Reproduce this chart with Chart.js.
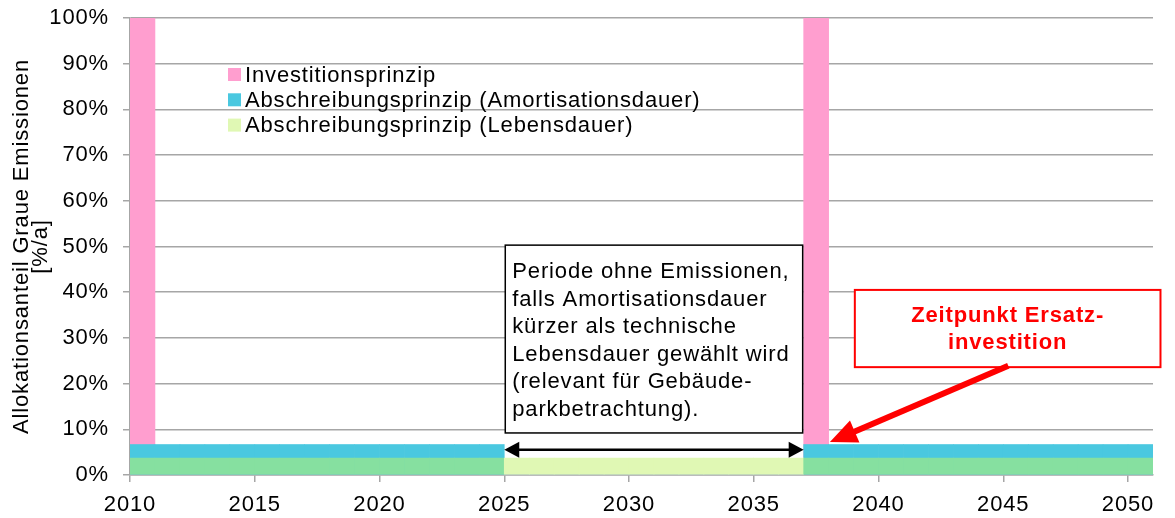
<!DOCTYPE html>
<html>
<head>
<meta charset="utf-8">
<script src="https://cdn.jsdelivr.net/npm/chart.js@4/dist/chart.umd.min.js"></script>
<style>
  html, body { margin: 0; padding: 0; background: #ffffff; }
  #wrap { width: 1175px; height: 518px; position: relative; }
</style>
</head>
<body>
<div id="wrap"><canvas id="c"></canvas></div>
<script>
// ---- Data ----
const years = ['2010','2011','2012','2013','2014','2015','2016','2017','2018','2019',
               '2020','2021','2022','2023','2024','2025','2026','2027','2028','2029',
               '2030','2031','2032','2033','2034','2035','2036','2037','2038','2039',
               '2040','2041','2042','2043','2044','2045','2046','2047','2048','2049','2050'];

const tickYears = ['2010','2015','2020','2025','2030','2035','2040','2045','2050'];

const yTicks = [0, 10, 20, 30, 40, 50, 60, 70, 80, 90, 100];

// Investitionsprinzip [%/a]
const investition = [100, 0, 0, 0, 0, 0, 0, 0, 0, 0,
                     0, 0, 0, 0, 0, 0, 0, 0, 0, 0,
                     0, 0, 0, 0, 0, 0, 0, 100, 0, 0,
                     0, 0, 0, 0, 0, 0, 0, 0, 0, 0, 0];

// Abschreibungsprinzip (Amortisationsdauer) [%/a]
const amortisation = [6.67, 6.67, 6.67, 6.67, 6.67, 6.67, 6.67, 6.67, 6.67, 6.67,
                      6.67, 6.67, 6.67, 6.67, 6.67, 0, 0, 0, 0, 0,
                      0, 0, 0, 0, 0, 0, 0, 6.67, 6.67, 6.67,
                      6.67, 6.67, 6.67, 6.67, 6.67, 6.67, 6.67, 6.67, 6.67, 6.67, 6.67];

// Abschreibungsprinzip (Lebensdauer) [%/a]
const lebensdauer = [3.7, 3.7, 3.7, 3.7, 3.7, 3.7, 3.7, 3.7, 3.7, 3.7,
                     3.7, 3.7, 3.7, 3.7, 3.7, 3.7, 3.7, 3.7, 3.7, 3.7,
                     3.7, 3.7, 3.7, 3.7, 3.7, 3.7, 3.7, 3.7, 3.7, 3.7,
                     3.7, 3.7, 3.7, 3.7, 3.7, 3.7, 3.7, 3.7, 3.7, 3.7, 3.7];

const seriesLabels = ['Investitionsprinzip',
                      'Abschreibungsprinzip (Amortisationsdauer)',
                      'Abschreibungsprinzip (Lebensdauer)'];

// ---- Styles ----
const FONT = '"Liberation Sans", Arial, sans-serif';
const LETTER_SPACING = '0.85px';
const PINK = '#ff9ecf';
const CYAN = '#4ac8e0';
const GREEN_OVER = '#86e0a0';
const LIGHT_GREEN = '#e0f8b4';
const GRID = '#a6a6a6';

// Annotation geometry in data space (years / percent)
const noteBox = { x0: 2025, x1: 2037, yTop: 50.3, yBot: 9.2 };
const noteLines = ['Periode ohne Emissionen,', 'falls Amortisationsdauer',
                   'kürzer als technische', 'Lebensdauer gewählt wird',
                   '(relevant für Gebäude-', 'parkbetrachtung).'];
const spanArrow = { x0: 2025, x1: 2037, y: 5.5 };
const redBox = { x0: 2039.05, x1: 2051.3, yTop: 40.5, yBot: 23.6 };
const redLines = ['Zeitpunkt Ersatz-', 'investition'];
const redArrow = { xFrom: 2045.2, yFrom: 23.9, xTo: 2038.05, yTo: 7.2 };

function arrowHead(ctx, tipX, tipY, fromX, fromY, len, halfW) {
  const ang = Math.atan2(tipY - fromY, tipX - fromX);
  ctx.beginPath();
  ctx.moveTo(tipX, tipY);
  ctx.lineTo(tipX - len * Math.cos(ang) + halfW * Math.sin(ang),
             tipY - len * Math.sin(ang) - halfW * Math.cos(ang));
  ctx.lineTo(tipX - len * Math.cos(ang) - halfW * Math.sin(ang),
             tipY - len * Math.sin(ang) + halfW * Math.cos(ang));
  ctx.closePath();
  ctx.fill();
}

const spacingPlugin = {
  id: 'spacing',
  beforeInit(chart) { chart.ctx.letterSpacing = LETTER_SPACING; },
  beforeUpdate(chart) { chart.ctx.letterSpacing = LETTER_SPACING; },
  beforeLayout(chart) { chart.ctx.letterSpacing = LETTER_SPACING; },
  beforeDraw(chart) { chart.ctx.letterSpacing = LETTER_SPACING; },
  resize(chart) { chart.ctx.letterSpacing = LETTER_SPACING; }
};

const overlayPlugin = {
  id: 'overlay',
  afterDraw(chart) {
    const { ctx, chartArea, scales } = chart;
    const xs = scales.x, ys = scales.y;
    const w = xs.getPixelForValue(1) - xs.getPixelForValue(0);
    const xAt = yr => xs.getPixelForValue(0) + (yr - 2010 - 0.5) * w;
    const yAt = v => ys.getPixelForValue(v);
    ctx.save();
    ctx.letterSpacing = LETTER_SPACING;

    // Legend (inside plot)
    const legendColors = [PINK, CYAN, LIGHT_GREEN];
    ctx.font = '22px ' + FONT;
    ctx.textBaseline = 'middle';
    ctx.textAlign = 'left';
    const lx = chartArea.left + 98, ly = chartArea.top + 56.5;
    seriesLabels.forEach((lab, i) => {
      const cy = ly + i * 25.3;
      ctx.fillStyle = legendColors[i];
      ctx.fillRect(lx, cy - 6.5, 13, 13);
      ctx.fillStyle = '#000';
      ctx.fillText(lab, lx + 17, cy + 1);
    });

    // Note box
    const bx0 = xAt(noteBox.x0) + 1, bx1 = xAt(noteBox.x1) - 1;
    const by0 = yAt(noteBox.yTop), by1 = yAt(noteBox.yBot);
    ctx.fillStyle = '#fff';
    ctx.fillRect(bx0, by0, bx1 - bx0, by1 - by0);
    ctx.strokeStyle = '#000';
    ctx.lineWidth = 1.5;
    ctx.strokeRect(bx0, by0, bx1 - bx0, by1 - by0);
    ctx.fillStyle = '#000';
    ctx.font = '22px ' + FONT;
    ctx.textBaseline = 'alphabetic';
    noteLines.forEach((t, i) => ctx.fillText(t, bx0 + 7, by0 + 33 + i * 27.5));

    // Double arrow
    const ax0 = xAt(spanArrow.x0), ax1 = xAt(spanArrow.x1), ay = yAt(spanArrow.y);
    ctx.strokeStyle = '#000';
    ctx.lineWidth = 2.5;
    ctx.beginPath();
    ctx.moveTo(ax0 + 10, ay);
    ctx.lineTo(ax1 - 10, ay);
    ctx.stroke();
    ctx.fillStyle = '#000';
    arrowHead(ctx, ax0, ay, ax1, ay, 15, 8);
    arrowHead(ctx, ax1, ay, ax0, ay, 15, 8);

    // Red box
    const rx0 = xAt(redBox.x0), rx1 = xAt(redBox.x1);
    const ry0 = yAt(redBox.yTop), ry1 = yAt(redBox.yBot);
    ctx.fillStyle = '#fff';
    ctx.fillRect(rx0, ry0, rx1 - rx0, ry1 - ry0);
    ctx.strokeStyle = '#ff0000';
    ctx.lineWidth = 2;
    ctx.strokeRect(rx0, ry0, rx1 - rx0, ry1 - ry0);
    ctx.fillStyle = '#ff0000';
    ctx.font = 'bold 22px ' + FONT;
    ctx.textAlign = 'center';
    ctx.textBaseline = 'middle';
    const rcx = (rx0 + rx1) / 2;
    ctx.fillText(redLines[0], rcx, ry0 + 26);
    ctx.fillText(redLines[1], rcx, ry0 + 53);

    // Red arrow
    const fx = xAt(redArrow.xFrom), fy = yAt(redArrow.yFrom);
    const tx = xAt(redArrow.xTo), ty = yAt(redArrow.yTo);
    const ang = Math.atan2(ty - fy, tx - fx);
    ctx.strokeStyle = '#ff0000';
    ctx.lineWidth = 6;
    ctx.beginPath();
    ctx.moveTo(fx, fy);
    ctx.lineTo(tx - 22 * Math.cos(ang), ty - 22 * Math.sin(ang));
    ctx.stroke();
    arrowHead(ctx, tx, ty, fx, fy, 27, 12);

    ctx.restore();
  }
};

const ctxEl = document.getElementById('c');
new Chart(ctxEl, {
  type: 'bar',
  data: {
    labels: years,
    datasets: [
      { label: seriesLabels[0], data: investition, backgroundColor: PINK, order: 3 },
      { label: seriesLabels[1], data: amortisation, backgroundColor: CYAN, order: 2 },
      { label: seriesLabels[2], data: lebensdauer, order: 1,
        backgroundColor: c => (amortisation[c.dataIndex] > 0 ? GREEN_OVER : LIGHT_GREEN) }
    ]
  },
  options: {
    responsive: true,
    maintainAspectRatio: false,
    animation: false,
    layout: { padding: { top: 18, right: 22, left: 0, bottom: 0 } },
    datasets: { bar: { grouped: false, barPercentage: 1, categoryPercentage: 1, borderWidth: 0 } },
    plugins: { legend: { display: false }, tooltip: { enabled: false } },
    scales: {
      x: {
        offset: true,
        grid: {
          offset: true,
          drawOnChartArea: false,
          drawTicks: true,
          tickLength: 7,
          lineWidth: 1.5,
          color: c => (tickYears.includes(years[c.index]) ? GRID : 'rgba(0,0,0,0)')
        },
        border: { display: true, color: GRID, width: 1.5 },
        ticks: {
          autoSkip: false,
          maxRotation: 0,
          minRotation: 0,
          labelOffset: -12.5,
          padding: 10,
          color: '#000',
          font: { family: FONT, size: 22 },
          callback: (v, i) => (tickYears.includes(years[i]) ? years[i] : '')
        },
        afterFit: s => { s.height = 43; s.paddingLeft = 0; s.paddingRight = 0; }
      },
      y: {
        min: 0,
        max: 100,
        afterBuildTicks: s => { s.ticks = yTicks.map(v => ({ value: v })); },
        grid: { color: GRID, lineWidth: 1.5, tickLength: 7 },
        border: { display: true, color: GRID, width: 1.5 },
        ticks: {
          padding: 14,
          color: '#000',
          font: { family: FONT, size: 22 },
          callback: v => v + '%'
        },
        title: {
          display: true,
          text: ['Allokationsanteil Graue Emissionen', '[%/a]'],
          color: '#000',
          font: { family: FONT, size: 22, lineHeight: 0.88 },
          padding: { top: 12, bottom: 0 }
        },
        afterFit: s => { s.width = 130; s.paddingTop = 0; s.paddingBottom = 0; }
      }
    }
  },
  plugins: [spacingPlugin, overlayPlugin]
});
</script>
</body>
</html>
